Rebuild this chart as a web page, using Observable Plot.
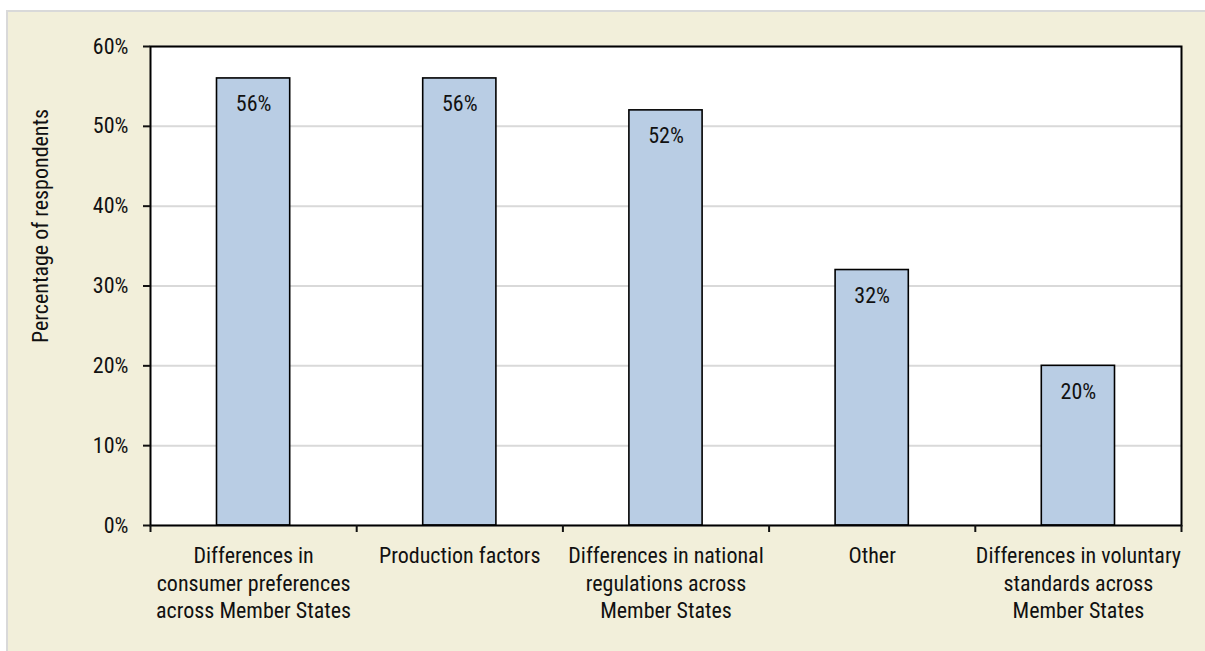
<!DOCTYPE html>
<html>
<head>
<meta charset="utf-8">
<script src="https://cdn.jsdelivr.net/npm/d3@7"></script>
<script src="https://cdn.jsdelivr.net/npm/@observablehq/plot@0.6"></script>
<style>
  html, body { margin: 0; padding: 0; background: #ffffff; width: 1205px; height: 651px; overflow: hidden; }
  #panel {
    position: absolute; left: 6px; top: 10px; right: 0; bottom: 0;
    background: #f2efda;
    border-left: 2px solid #d9d9d9;
    border-top: 2px solid #d9d9d9;
  }
  #chart { position: absolute; left: 0; top: 0; }
</style>
</head>
<body>
<div id="panel"></div>
<div id="chart"></div>
<script>
// Reasons given by respondents, with the share of respondents citing each one
const categories = [
  "Differences in\nconsumer preferences\nacross Member States",
  "Production factors",
  "Differences in national\nregulations across\nMember States",
  "Other",
  "Differences in voluntary\nstandards across\nMember States"
];
const shares = [56, 56, 52, 32, 20];
const yTicks = [0, 10, 20, 30, 40, 50, 60];

const rows = categories.map((label, i) => ({ i, label, share: shares[i] }));
const font = "'Roboto Condensed', 'Open Sans', sans-serif";
const textSize = 22;
const barInset = 66.5;

const plot = Plot.plot({
  width: 1205,
  height: 651,
  marginLeft: 150,
  marginRight: 24,
  marginTop: 46,
  marginBottom: 126,
  style: { background: "transparent", fontFamily: font, fontSize: textSize + "px", color: "#111" },
  x: { type: "linear", domain: [0, categories.length], axis: null },
  y: { domain: [0, 60], axis: null },
  marks: [
    Plot.frame({ fill: "white", stroke: null }),
    Plot.gridY({ ticks: yTicks, stroke: "#d9d9d9", strokeOpacity: 1, strokeWidth: 2 }),
    Plot.rectY(rows, {
      x1: "i", x2: d => d.i + 1, y: "share",
      insetLeft: barInset, insetRight: barInset,
      fill: "#b9cde4", stroke: "#000", strokeWidth: 1.6
    }),
    Plot.text(rows, {
      x: d => d.i + 0.5, y: "share", text: d => d.share + "%",
      dy: 26, fill: "#111", fontSize: textSize
    }),
    Plot.frame({ stroke: "#000", strokeWidth: 2 }),
    Plot.axisY({
      ticks: yTicks, tickFormat: d => d + "%", tickSize: 7, tickPadding: 15,
      label: null, strokeWidth: 2, fontSize: textSize
    }),
    Plot.axisX({
      ticks: d3.range(categories.length + 1), tickFormat: () => "",
      tickSize: 7, strokeWidth: 2, label: null
    }),
    Plot.text(rows, {
      x: d => d.i + 0.5, text: "label", frameAnchor: "bottom",
      lineAnchor: "top", dy: 18, lineHeight: 27.5 / textSize, fill: "#111", fontSize: textSize
    }),
    Plot.text(["Percentage of respondents"], {
      frameAnchor: "left", textAnchor: "middle", rotate: -90, dx: -110, dy: -60,
      fill: "#111", fontSize: textSize
    })
  ]
});

document.getElementById("chart").appendChild(plot);
</script>
</body>
</html>
